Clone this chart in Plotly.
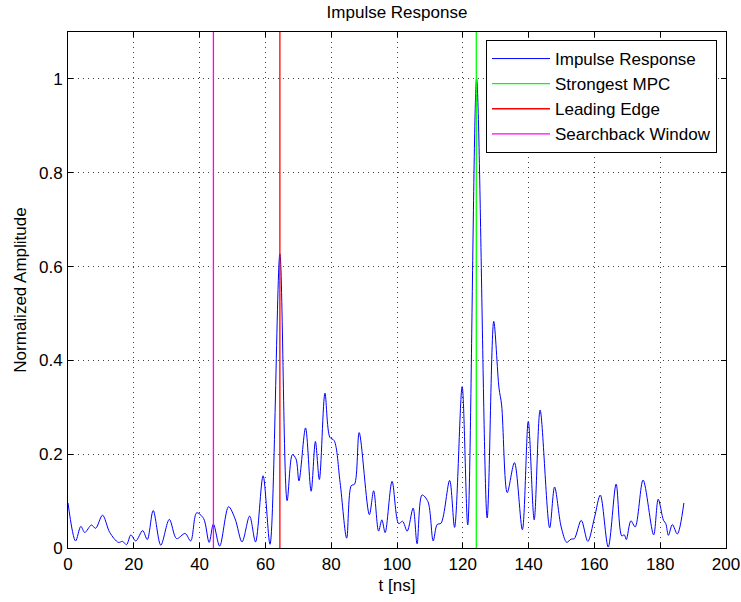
import plotly.graph_objects as go

# Impulse response samples (t in ns, normalized amplitude)
t_ns = [0.0, 2.3, 3.9, 5.1, 7.1, 8.4, 10.5, 12.7, 15.3, 16.6, 17.8, 19.1, 20.6, 22.7,
        24.1, 25.9, 28.2, 30.8, 33.0, 35.6, 37.3, 39.1, 41.2, 42.9, 44.2, 46.1, 48.8,
        50.8, 52.9, 55.2, 57.0, 59.3, 61.4, 64.4, 66.6, 68.2, 69.3, 70.2, 72.2, 73.9,
        75.2, 76.4, 78.1, 79.6, 80.9, 82.7, 84.7, 86.1, 87.1, 88.5, 91.6, 92.9, 94.4,
        95.4, 96.4, 98.5, 100.5, 101.7, 103.1, 104.9, 106.1, 107.6, 109.4, 111.0, 112.2,
        113.4, 116.0, 117.5, 119.8, 121.5, 124.2, 127.4, 129.4, 131.0, 131.8, 133.5,
        135.7, 138.1, 139.9, 141.7, 143.5, 146.4, 147.9, 149.9, 151.6, 152.9, 153.9,
        156.0, 158.0, 160.0, 161.8, 164.2, 166.6, 168.3, 169.1, 169.7, 171.1, 172.4,
        174.8, 178.0, 179.4, 181.0, 181.7, 182.5, 183.7, 185.2, 187.2]
amplitude = [0.096, 0.015, 0.046, 0.033, 0.049, 0.042, 0.070, 0.033, 0.012, 0.014, 0.007,
             0.028, 0.015, 0.037, 0.018, 0.080, 0.006, 0.061, 0.020, 0.031, 0.015, 0.075,
             0.063, 0.012, 0.051, 0.004, 0.088, 0.062, 0.013, 0.068, 0.013, 0.154, 0.008,
             0.627, 0.101, 0.199, 0.190, 0.143, 0.256, 0.121, 0.227, 0.146, 0.330, 0.236,
             0.229, 0.140, 0.021, 0.133, 0.136, 0.246, 0.071, 0.122, 0.036, 0.060, 0.033,
             0.142, 0.052, 0.057, 0.036, 0.085, 0.009, 0.113, 0.099, 0.015, 0.050, 0.053,
             0.144, 0.044, 0.344, 0.049, 1.000, 0.064, 0.483, 0.341, 0.305, 0.118, 0.182,
             0.039, 0.270, 0.060, 0.294, 0.043, 0.130, 0.045, 0.012, 0.019, 0.020, 0.059,
             0.014, 0.064, 0.113, 0.002, 0.136, 0.026, 0.028, 0.018, 0.058, 0.045, 0.145,
             0.028, 0.104, 0.059, 0.052, 0.027, 0.050, 0.030, 0.096]

# Marker lines (t in ns)
marker_names = ["Strongest MPC", "Leading Edge", "Searchback Window"]
marker_times = [124.1, 64.4, 44.2]
marker_colors = ["#00ff00", "#ff0000", "#ff00ff"]

y_range = [0, 1.1]
x_range = [0, 200]
x_ticks = [0, 20, 40, 60, 80, 100, 120, 140, 160, 180, 200]
y_ticks = [0, 0.2, 0.4, 0.6, 0.8, 1.0]
y_tick_text = ["0", "0.2", "0.4", "0.6", "0.8", "1"]

FONT = "Liberation Sans, Arial, Helvetica, sans-serif"
FS = 17

fig = go.Figure()
fig.add_trace(go.Scatter(
    x=t_ns, y=amplitude, mode="lines", name="Impulse Response",
    line=dict(color="#0000ff", width=1, shape="spline", smoothing=0.9),
))
for name, tm, col in zip(marker_names, marker_times, marker_colors):
    fig.add_trace(go.Scatter(
        x=[tm, tm], y=y_range, mode="lines", name=name,
        line=dict(color=col, width=1.3),
    ))

axis_common = dict(
    showline=True, linecolor="black", linewidth=1, mirror="ticks",
    ticks="inside", ticklen=5, tickwidth=1, tickcolor="black",
    showgrid=True, gridcolor="rgba(0,0,0,0.75)", griddash="1px,4px", gridwidth=1,
    zeroline=False, automargin=False,
    tickfont=dict(family=FONT, size=FS, color="black"),
)

fig.update_layout(
    width=741, height=602,
    margin=dict(l=68, r=15, t=32, b=54),
    paper_bgcolor="white", plot_bgcolor="white",
    font=dict(family=FONT, size=FS, color="black"),
    title=dict(text="Impulse Response", x=0.5, xref="paper", xanchor="center",
               y=1 - 12 / 602, yref="container", yanchor="middle",
               font=dict(family=FONT, size=FS, color="black")),
    xaxis=dict(range=x_range, tickvals=x_ticks, ticklabelstandoff=1,
               title=dict(text="t [ns]", standoff=5, font=dict(family=FONT, size=FS)),
               **axis_common),
    yaxis=dict(range=y_range, tickvals=y_ticks, ticktext=y_tick_text, ticklabelstandoff=1,
               title=dict(text="Normalized Amplitude", standoff=8, font=dict(family=FONT, size=FS)),
               **axis_common),
    legend=dict(x=(717 - 68) / 658, xanchor="right", y=(548 - 40) / 516, yanchor="top",
                bgcolor="white", bordercolor="black", borderwidth=1,
                font=dict(family=FONT, size=17, color="black"),
                itemwidth=58, tracegroupgap=0),
    showlegend=True,
)

# remove the default 8px page margin so the figure fills the window exactly
fig.write_html(
    "out.html",
    config={"displayModeBar": False},
    post_script="document.body.style.margin='0';document.body.style.overflow='hidden';",
)
